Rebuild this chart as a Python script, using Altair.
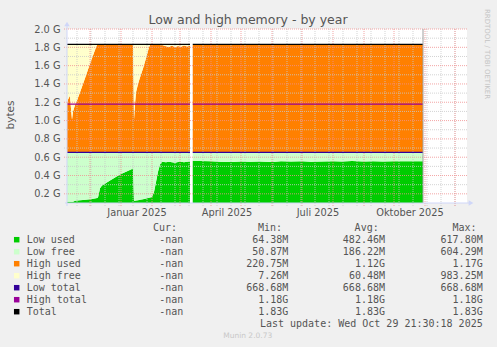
import altair as alt
import pandas as pd

# ---------------- data (values in GiB) ----------------
LOW_TOTAL = 0.653   # 668.68M
HIGH_TOTAL = 1.18   # 1.18G

seg1_dates = ["2024-11-08", "2024-11-09", "2024-11-11", "2024-11-12", "2024-11-13", "2024-11-14",
              "2024-11-16", "2024-11-18", "2024-11-24", "2024-12-01", "2024-12-07", "2024-12-08",
              "2024-12-09", "2024-12-11", "2024-12-13", "2024-12-21", "2024-12-31", "2025-01-12",
              "2025-01-13", "2025-01-14", "2025-01-15", "2025-01-16", "2025-01-18", "2025-01-20",
              "2025-01-23", "2025-01-26", "2025-01-29", "2025-01-30", "2025-02-01", "2025-02-03",
              "2025-02-05", "2025-02-07", "2025-02-09", "2025-02-11", "2025-02-15", "2025-02-18",
              "2025-02-21", "2025-02-24", "2025-02-27", "2025-03-02", "2025-03-05", "2025-03-08",
              "2025-03-11"]
seg1_low_used = [0.115, 0.115, 0.115, 0.115, 0.115, 0.115, 0.125, 0.127, 0.133, 0.14, 0.152, 0.155,
                 0.16, 0.26, 0.29, 0.345, 0.41, 0.47, 0.48, 0.125, 0.125, 0.127, 0.13, 0.135,
                 0.14, 0.15, 0.158, 0.16, 0.165, 0.22, 0.33, 0.44, 0.52, 0.55, 0.545, 0.55,
                 0.545, 0.54, 0.548, 0.55, 0.545, 0.55, 0.552]
seg1_high_used = [0.537, 0.577, 0.617, 0.477, 0.357, 0.447, 0.517, 0.567, 0.747, 0.967, 1.147, 1.172,
                  1.172, 1.172, 1.172, 1.172, 1.172, 1.172, 1.172, 0.357, 0.527, 0.657, 0.747, 0.817,
                  0.917, 1.027, 1.147, 1.172, 1.172, 1.172, 1.172, 1.172, 1.172, 1.172, 1.16, 1.15,
                  1.168, 1.148, 1.162, 1.152, 1.168, 1.155, 1.163]

seg2_dates = ["2025-03-13T18:00", "2025-03-21", "2025-04-01", "2025-04-10", "2025-04-20", "2025-05-01",
              "2025-05-10", "2025-05-20", "2025-06-01", "2025-06-10", "2025-06-20", "2025-07-01",
              "2025-07-10", "2025-07-20", "2025-08-01", "2025-08-10", "2025-08-20", "2025-09-01",
              "2025-09-10", "2025-09-20", "2025-10-01", "2025-10-10", "2025-10-20", "2025-10-30"]
seg2_low_used = [0.561, 0.558, 0.555, 0.55, 0.548, 0.552, 0.55, 0.553, 0.548, 0.555, 0.552, 0.556,
                 0.55, 0.554, 0.556, 0.552, 0.558, 0.554, 0.556, 0.552, 0.557, 0.555, 0.557, 0.556]
seg2_high_used = [1.174, 1.174, 1.174, 1.173, 1.174, 1.174, 1.174, 1.173, 1.174, 1.174, 1.174, 1.174,
                  1.174, 1.173, 1.174, 1.174, 1.174, 1.174, 1.173, 1.174, 1.174, 1.174, 1.174, 1.174]

series_names = ["Low used", "Low free", "High used", "High free", "Low total", "High total", "Total"]
series_colors = ["#00CC00", "#CCFFCC", "#FF8000", "#FFFFCC", "#330099", "#990099", "#000000"]
cur_vals = ["-nan", "-nan", "-nan", "-nan", "-nan", "-nan", "-nan"]
min_vals = ["64.38M", "50.87M", "220.75M", "7.26M", "668.68M", "1.18G", "1.83G"]
avg_vals = ["482.46M", "186.22M", "1.12G", "60.48M", "668.68M", "1.18G", "1.83G"]
max_vals = ["617.80M", "604.29M", "1.17G", "983.25M", "668.68M", "1.18G", "1.83G"]

month_labels = ["Januar", "Februar", "März", "April", "Mai", "Juni", "Juli", "August",
                "September", "Oktober", "November", "Dezember"]

# ---------------- tables ----------------
col = dict(zip(series_names, series_colors))
rows = []
segs = [(seg1_dates, seg1_low_used, seg1_high_used), (seg2_dates, seg2_low_used, seg2_high_used)]
for s, (ds, lu, hu) in enumerate(segs):
    for d, a, b in zip(ds, lu, hu):
        for name, lo, hi in [("Low used", 0.0, a), ("Low free", a, LOW_TOTAL),
                             ("High used", LOW_TOTAL, LOW_TOTAL + b),
                             ("High free", LOW_TOTAL + b, LOW_TOTAL + HIGH_TOTAL)]:
            rows.append(dict(date=pd.Timestamp(d), key=f"{name}{s}", col=col[name], v=lo, v2=hi))
area_df = pd.DataFrame(rows)

line_rows = []
for s, (ds, _, _) in enumerate(segs):
    for name, val in [("Low total", LOW_TOTAL), ("High total", HIGH_TOTAL),
                      ("Total", LOW_TOTAL + HIGH_TOTAL)]:
        for d in (ds[0], ds[-1]):
            line_rows.append(dict(date=pd.Timestamp(d), key=f"{name}{s}", col=col[name], v=val))
line_df = pd.DataFrame(line_rows)

x_end = pd.Timestamp("2025-12-13")
month_grid = pd.DataFrame({"date": pd.date_range("2024-12-01", "2025-12-01", freq="MS")})
minor_grid = pd.DataFrame({"date": pd.date_range("2024-11-18", x_end, freq="14D")})
major_y = pd.DataFrame({"v": [round(0.2 * i, 1) for i in range(1, 11)]})
minor_y = pd.DataFrame({"v": [round(0.1 + 0.2 * i, 1) for i in range(1, 10)]})
end_df = pd.DataFrame({"date": [pd.Timestamp(seg2_dates[-1])]})

W, H = 400, 174
xscale = alt.Scale(domain=[alt.DateTime(year=2024, month=11, date=8),
                           alt.DateTime(year=2025, month=12, date=13)])
yscale = alt.Scale(domain=[0.1, 2.0], nice=False, zero=False)

label_expr = ("['" + "','".join(month_labels) + "'][month(datum.value)] + ' ' + year(datum.value)")
xaxis = alt.Axis(values=[alt.DateTime(year=2025, month=m, date=16, hours=12) for m in (1, 4, 7, 10)],
                 labelExpr=label_expr, grid=False, ticks=False, domain=False,
                 labelFont="DejaVu Sans", labelFontSize=9.8, labelColor="#555555",
                 labelPadding=4, labelOverlap=False, labelFlush=False, title=None)
yaxis = alt.Axis(values=[round(0.2 * i, 1) for i in range(1, 11)],
                 labelExpr="format(datum.value, '.1f') + ' G'", grid=False, ticks=False,
                 domain=False, labelFont="DejaVu Sans", labelFontSize=9.8, labelColor="#555555",
                 labelPadding=7, title=None)

X = alt.X("date:T", scale=xscale, axis=xaxis)
Y = alt.Y("v:Q", scale=yscale, axis=yaxis)

areas = alt.Chart(area_df).mark_area(clip=True, interpolate="linear").encode(
    x=X, y=Y, y2="v2:Q", color=alt.Color("col:N", scale=None), detail="key:N")

red = "#F09090"
grey = "#C8C8C8"
vgrid_minor = alt.Chart(minor_grid).mark_rule(color=grey, strokeDash=[1, 1], strokeWidth=1,
                                              opacity=0.8).encode(
    x=X, y=alt.value(0), y2=alt.value(H + 3))
vgrid_major = alt.Chart(month_grid).mark_rule(color=red, strokeDash=[1, 1], strokeWidth=1,
                                              opacity=0.8).encode(
    x=X, y=alt.value(0), y2=alt.value(H + 3))
hgrid_minor = alt.Chart(minor_y).mark_rule(color=grey, strokeDash=[1, 1], strokeWidth=1,
                                           opacity=0.8).encode(
    y=Y, x=alt.value(-3), x2=alt.value(W))
hgrid_major = alt.Chart(major_y).mark_rule(color=red, strokeDash=[1, 1], strokeWidth=1,
                                           opacity=0.8).encode(
    y=Y, x=alt.value(-3), x2=alt.value(W))

lines = alt.Chart(line_df).mark_line(strokeWidth=1.3).encode(
    x=X, y=Y, color=alt.Color("col:N", scale=None), detail="key:N")

end_rule = alt.Chart(end_df).mark_rule(color="#A0A0A0", strokeWidth=1).encode(
    x=X, y=alt.value(0), y2=alt.value(H))

one = pd.DataFrame({"t": [""]})
axis_col = "#CFD6F8"
xaxis_line = alt.Chart(one).mark_rule(color=axis_col).encode(
    x=alt.value(-2), x2=alt.value(404), y=alt.value(H))
yaxis_line = alt.Chart(one).mark_rule(color=axis_col).encode(
    x=alt.value(0), y=alt.value(-3), y2=alt.value(H + 3))
x_arrow = alt.Chart(one).mark_point(shape="triangle-right", filled=True, size=30, opacity=1,
                                    color=axis_col).encode(x=alt.value(404), y=alt.value(H))
y_arrow = alt.Chart(one).mark_point(shape="triangle-up", filled=True, size=30, opacity=1,
                                    color=axis_col).encode(x=alt.value(0), y=alt.value(-5))


def text_layer(txt, x, y, **kw):
    return alt.Chart(pd.DataFrame({"t": [txt]})).mark_text(**kw).encode(
        x=alt.value(x), y=alt.value(y), text="t:N")


title = text_layer("Low and high memory - by year", 181, -9.5, font="DejaVu Sans", fontSize=12.5,
                   color="#555555", align="center", baseline="middle")
ytitle = text_layer("bytes", -56, 86, font="DejaVu Sans", fontSize=10.5, color="#555555",
                    align="center", baseline="middle", angle=270)
rrd = text_layer("RRDTOOL / TOBI OETIKER", 420, 25, font="DejaVu Sans", fontSize=7,
                 color="#C4C4C4", align="center", baseline="middle", angle=90)

# legend table
leg = pd.DataFrame({"name": series_names, "col": series_colors, "cur": cur_vals,
                    "mn": min_vals, "av": avg_vals, "mx": max_vals,
                    "py": [210.7 + 12 * i for i in range(len(series_names))]})
LY = alt.Y("py:Q", scale=None, axis=None)
mono = dict(font="DejaVu Sans Mono", fontSize=10, color="#555555", baseline="middle")
leg_sq = alt.Chart(leg).mark_square(size=30, opacity=1).encode(
    x=alt.value(-50.3), y=LY, color=alt.Color("col:N", scale=None))
leg_layers = [leg_sq,
              alt.Chart(leg).mark_text(align="left", **mono).encode(x=alt.value(-40.3), y=LY, text="name:N")]
for field, xr in [("cur", 116.3), ("mn", 221.3), ("av", 318), ("mx", 415.7)]:
    leg_layers.append(alt.Chart(leg).mark_text(align="right", **mono).encode(
        x=alt.value(xr), y=LY, text=f"{field}:N"))
headers = [text_layer(h, xr, 199.3, align="right", **mono)
           for h, xr in [("Cur:", 110), ("Min:", 215), ("Avg:", 311.7), ("Max:", 409.5)]]
last_upd = text_layer("Last update: Wed Oct 29 21:30:18 2025", 415.7, 294.7, align="right", **mono)
munin = text_layer("Munin 2.0.73", 180.7, 306.7, font="DejaVu Sans", fontSize=7.5,
                   color="#C8C8C8", align="center", baseline="middle")

chart = alt.layer(
    areas, vgrid_minor, vgrid_major, hgrid_minor, hgrid_major, lines, end_rule,
    xaxis_line, yaxis_line, x_arrow, y_arrow, title, ytitle, rrd,
    *leg_layers, *headers, last_upd, munin
).properties(
    width=W, height=H,
    padding={"left": 67, "top": 29, "right": 30, "bottom": 144},
    autosize=alt.AutoSizeParams(type="none"),
).configure(background="#F0F0F0").configure_view(fill="white", stroke=None)

chart.save("out.html", embed_options={"renderer": "svg", "actions": False})
